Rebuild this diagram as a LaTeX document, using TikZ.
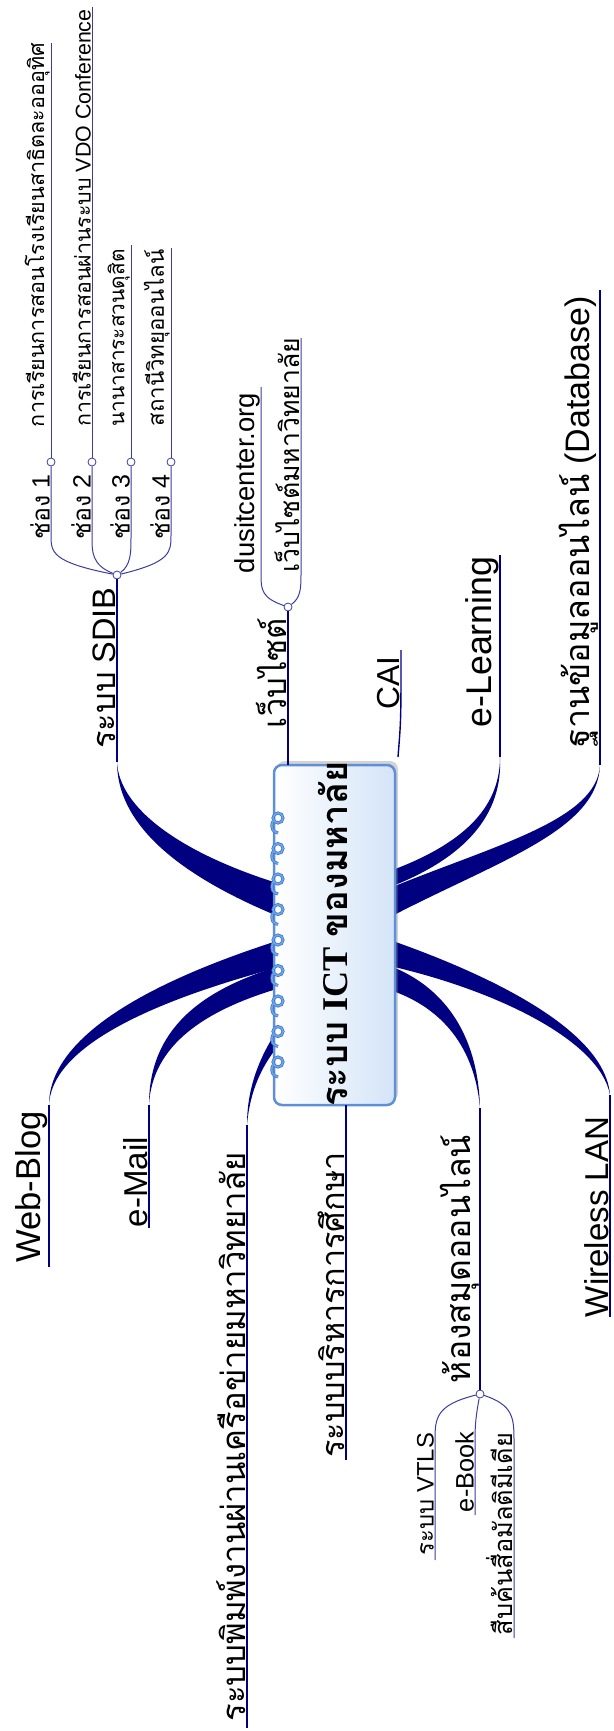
\documentclass[tikz,border=0pt]{standalone}
\usepackage{graphicx}
\usepackage{fontspec}
\setmainfont{Liberation Sans}
\newfontfamily\thai[Script=Thai]{Loma}
\newfontfamily\serifl{Liberation Serif}
\usetikzlibrary{shadows}
\definecolor{navy}{RGB}{0,0,128}
\definecolor{thinc}{RGB}{60,60,160}
\definecolor{ringc}{RGB}{110,165,230}
\definecolor{ringd}{RGB}{60,115,200}
\definecolor{boxb}{RGB}{95,143,214}
\definecolor{boxf}{RGB}{212,228,247}
\newcommand\szA{\fontsize{34}{40}\selectfont}
\newcommand\szB{\fontsize{25}{30}\selectfont}
\newcommand\szBs{\fontsize{22}{26}\selectfont}
\newcommand\szC{\fontsize{19}{23}\selectfont}
\newcommand\szX{\fontsize{40}{48}\selectfont}
\newcommand\fitw[2]{\resizebox{#1pt}{!}{#2}}
\begin{document}
\begin{tikzpicture}[x=1pt,y=-1pt,
  lA/.style={rotate=90,anchor=south,inner sep=1pt,font=\szA},
  lB/.style={rotate=90,anchor=south,inner sep=1pt,font=\szB},
  lBs/.style={rotate=90,anchor=south,inner sep=1pt,font=\szBs},
  lC/.style={rotate=90,anchor=south,inner sep=1pt,font=\szC},
  fan/.style={circle,draw=thinc,fill=white,line width=0.8pt,inner sep=0pt,minimum size=8pt},
  ul/.style={draw=navy,line width=1.4pt},
  ul2/.style={draw=thinc,line width=1pt},
  taper/.style={fill=navy},
  corebox/.style={rectangle,rounded corners=8pt,draw=boxb,line width=2.5pt,
    left color=white,right color=boxf,minimum width=121pt,minimum height=340pt,
    drop shadow={shadow xshift=3pt,shadow yshift=4pt,opacity=0.35}},
  ring/.style={draw=ringd,line width=3pt},
  ringin/.style={draw=ringc,line width=1.6pt}
]
\useasboundingbox (0,0) rectangle (613,1731);

% junction coordinates
\coordinate (jS) at (117,762);
\coordinate (jWB) at (49,1105);
\coordinate (jEM) at (149,1105);
\coordinate (jPR) at (247,1125);
\coordinate (jEL) at (500,757);
\coordinate (jDB) at (600,765);
\coordinate (jWL) at (610,1095);
\coordinate (jLB) at (480,1108);

% tapers
\fill[taper] (jS) .. controls (117,820) and (170,872) .. (280,917) -- (280,884) .. controls (180,853) and (119,808) .. (jS) -- cycle;
\fill[taper] (280,940) .. controls (170,975) and (49,1030) .. (jWB) .. controls (52,1040) and (175,995) .. (280,967) -- cycle;
\fill[taper] (280,966) .. controls (200,990) and (149,1030) .. (jEM) .. controls (152,1045) and (205,1010) .. (280,988) -- cycle;
\fill[taper] (276,1032) .. controls (258,1060) and (247,1090) .. (jPR) .. controls (250,1090) and (262,1066) .. (278,1046) -- cycle;
\fill[taper] (jEL) .. controls (500,810) and (460,845) .. (390,871) -- (390,887) .. controls (465,858) and (503,815) .. (jEL) -- cycle;
\fill[taper] (jDB) .. controls (598,830) and (500,860) .. (390,917) -- (390,888) .. controls (495,845) and (597,820) .. (jDB) -- cycle;
\fill[taper] (390,940) .. controls (490,975) and (605,1030) .. (jWL) .. controls (600,1040) and (495,990) .. (390,966) -- cycle;
\fill[taper] (390,966) .. controls (440,985) and (478,1030) .. (jLB) .. controls (474,1040) and (435,1005) .. (390,990) -- cycle;

% central box
\node[corebox] (core) at (334.5,935) {};
\foreach \k in {0,...,8}{
  \pgfmathsetmacro{\yy}{818+30.5*\k}
  \draw[ring] (278,\yy) circle (5);
  \draw[ring] (273,\yy+3) .. controls (270,\yy+10) and (273,\yy+14) .. (278,\yy+15);
  \draw[ringin] (278,\yy) circle (5);
  \draw[ringin] (273,\yy+3) .. controls (270,\yy+10) and (273,\yy+14) .. (278,\yy+15);
}
\node[rotate=90,inner sep=0pt,font=\szX] (coretxt) at (333,934) {\fitw{345}{{\thai\bfseries ระบบ} {\serifl\bfseries ICT} {\thai\bfseries ของมหาลัย}}};

% end coordinates
\coordinate (eWB) at (49,1267);
\coordinate (eEM) at (149,1228);
\coordinate (ePR) at (247,1728);
\coordinate (aTop) at (346,1105);
\coordinate (eAD) at (346,1460);
\coordinate (eEL) at (500,555);
\coordinate (eDB) at (600,290);
\coordinate (eWL) at (610,1317);
\coordinate (wTop) at (288,765);
\coordinate (cTop) at (401,650);
\coordinate (cBot) at (398,757);

% fan nodes
\node[fan] (nS) at (117,575) {};
\node[fan] (c1) at (51,462) {};
\node[fan] (c2) at (92,462) {};
\node[fan] (c3) at (131,462) {};
\node[fan] (c4) at (171,462) {};
\node[fan] (nW) at (288,607) {};
\node[fan] (nL) at (480,1394) {};

\coordinate (g1) at (51,43);
\coordinate (g2) at (92,7);
\coordinate (g3) at (131,245);
\coordinate (g4) at (171,248);
\coordinate (w1) at (261,387);
\coordinate (w2) at (301,338);
\coordinate (l1) at (435,1560);
\coordinate (l2) at (475,1515);
\coordinate (l3) at (514,1638);

% level-1 lines
\draw[ul] (nS) -- (jS);
\draw[ul] (jWB) -- (eWB);
\draw[ul] (jEM) -- (eEM);
\draw[ul] (jPR) -- (ePR);
\draw[ul] (aTop) -- (eAD);
\draw[ul] (jEL) -- (eEL);
\draw[ul] (jDB) -- (eDB);
\draw[ul] (jWL) -- (eWL);
\draw[ul] (jLB) -- (nL);
\draw[ul] (nW) -- (wTop);
\draw[ul] (cTop) .. controls (401,720) .. (cBot);

% SDIB fan
\draw[ul2] (nS) .. controls (51,562) and (51,552) .. (51,535) -- (c1);
\draw[ul2] (nS) .. controls (92,565) and (92,552) .. (92,538) -- (c2);
\draw[ul2] (nS) .. controls (131,565) and (131,552) .. (131,538) -- (c3);
\draw[ul2] (nS) .. controls (171,562) and (171,552) .. (171,535) -- (c4);
\draw[ul2] (c1) -- (g1);
\draw[ul2] (c2) -- (g2);
\draw[ul2] (c3) -- (g3);
\draw[ul2] (c4) -- (g4);

% website fan
\draw[ul2] (nW) .. controls (262,598) and (261,590) .. (261,575) -- (w1);
\draw[ul2] (nW) .. controls (300,598) and (301,590) .. (301,575) -- (w2);

% library fan
\draw[ul2] (nL) .. controls (436,1405) and (435,1418) .. (435,1440) -- (l1);
\draw[ul2] (nL) .. controls (476,1415) and (475,1425) .. (475,1440) -- (l2);
\draw[ul2] (nL) .. controls (513,1405) and (514,1418) .. (514,1440) -- (l3);

% level-1 labels
\node[lA] (tS) at (117,668) {\fitw{161}{{\thai ระบบ} SDIB}};
\node[lA] (tW) at (288,673) {\fitw{110}{\thai เว็บไซต์}};
\node[lA] (tC) at (401,683) {\fitw{53}{CAI}};
\node[lA] (tEL) at (500,642) {\fitw{171}{e-Learning}};
\node[lA] (tDB) at (600,522) {\fitw{451}{{\thai ฐานข้อมูลออนไลน์} (Database)}};
\node[lA] (tWB) at (49,1187) {\fitw{151}{Web-Blog}};
\node[lA] (tEM) at (149,1182) {\fitw{90}{e-Mail}};
\node[lA] (tPR) at (247,1437) {\fitw{569}{\thai ระบบพิมพ์งานผ่านเครือข่ายมหาวิทยาลัย}};
\node[lA] (tAD) at (346,1305) {\fitw{305}{\thai ระบบบริหารการศึกษา}};
\node[lA] (tLB) at (480,1259) {\fitw{248}{\thai ห้องสมุดออนไลน์}};
\node[lA] (tWL) at (610,1217) {\fitw{200}{Wireless LAN}};

% level-2 labels
\node[lB] (k1) at (51,507) {\fitw{65}{{\thai ช่อง} 1}};
\node[lB] (k2) at (92,507) {\fitw{65}{{\thai ช่อง} 2}};
\node[lB] (k3) at (131,507) {\fitw{65}{{\thai ช่อง} 3}};
\node[lB] (k4) at (171,507) {\fitw{65}{{\thai ช่อง} 4}};
\node[lB] (kw1) at (261,483) {\fitw{180}{dusitcenter.org}};
\node[lB] (kw2) at (301,455) {\fitw{235}{\thai เว็บไซต์มหาวิทยาลัย}};
\node[lBs] (kl1) at (435,1494) {\fitw{122}{{\thai ระบบ} VTLS}};
\node[lB] (kl2) at (475,1472) {\fitw{80}{e-Book}};
\node[lBs] (kl3) at (514,1534) {\fitw{202}{\thai สืบค้นสื่อมัลติมีเดีย}};

% level-3 labels
\node[lC] (m1) at (51,235) {\fitw{384}{\thai การเรียนการสอนโรงเรียนสาธิตละอออุทิศ}};
\node[lC] (m2) at (92,218) {\fitw{417}{{\thai การเรียนการสอนผ่านระบบ} VDO Conference}};
\node[lC] (m3) at (131,338) {\fitw{177}{\thai นานาสาระสวนดุสิต}};
\node[lC] (m4) at (171,338) {\fitw{177}{\thai สถานีวิทยุออนไลน์}};
\end{tikzpicture}
\end{document}
